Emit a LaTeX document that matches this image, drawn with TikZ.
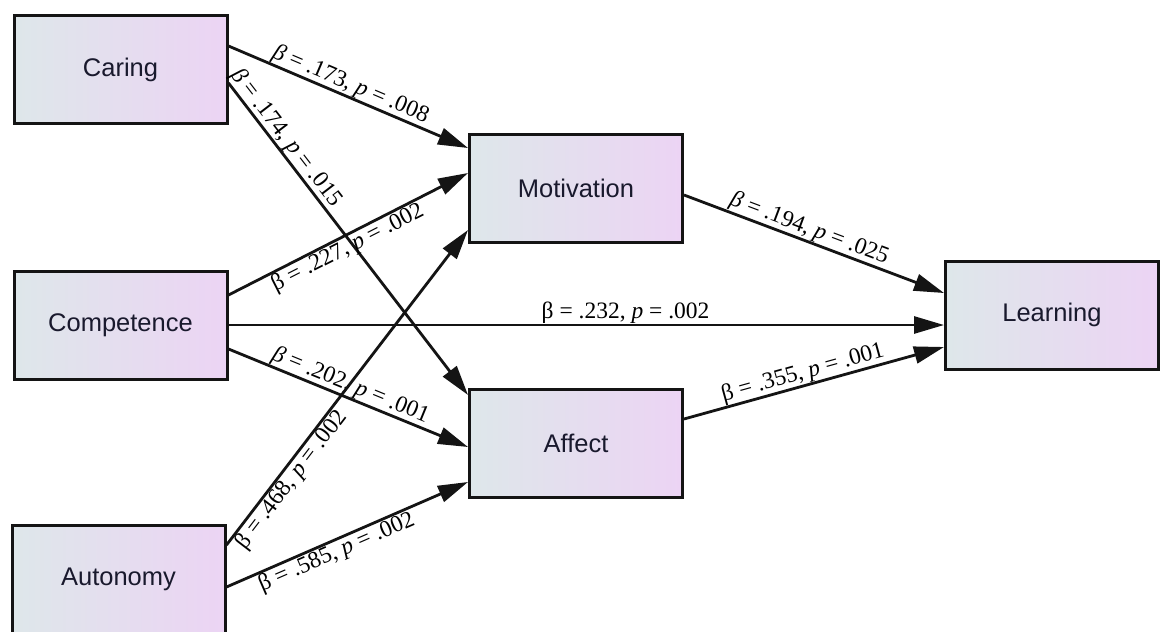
\documentclass[tikz,border=0pt]{standalone}
\usepackage{fontspec}
\setmainfont{Liberation Serif}
\newfontfamily\boxfont{Liberation Sans}
\usetikzlibrary{arrows.meta}
\definecolor{boxleft}{RGB}{222,231,234}
\definecolor{boxright}{RGB}{236,212,244}
\definecolor{boxtext}{RGB}{25,25,45}
\definecolor{edgeblk}{RGB}{20,20,20}
\begin{document}
\begin{tikzpicture}[x=1pt,y=-1pt,
  var/.style={draw=edgeblk, line width=3pt, left color=boxleft, right color=boxright,
    minimum width=213pt, minimum height=108pt, inner sep=0pt,
    font=\boxfont\fontsize{25.5}{30}\selectfont, text=boxtext},
  link/.style={line width=2.8pt, draw=edgeblk, -{Triangle[length=30pt 0, width=17pt 0]}},
  lab/.style={font=\fontsize{23.5}{27}\selectfont, sloped, inner sep=1.5pt, outer sep=0pt}
]
\useasboundingbox (0,0) rectangle (1160,632);
\fill[white] (0,0) rectangle (1160,632);
\node[var] (car) at (120.5,69.5) {Caring};
\node[var] (com) at (120.5,325) {Competence};
\node[var] (aut) at (118.5,579) {Autonomy};
\node[var] (mot) at (576,188.5) {Motivation};
\node[var] (aff) at (576,443.5) {Affect};
\node[var] (lea) at (1052,315) {Learning};

\draw[link] ([yshift=23.5pt]car.east) -- node[lab,above,pos=0.49] {\textit{β} = .173, \textit{p} = .008} ([yshift=40.5pt]mot.west);
\draw[link] ([yshift=-13.5pt]car.east) -- node[lab,above,pos=0.2] {\textit{β} = .174, \textit{p} = .015} ([yshift=48.5pt]aff.west);
\draw[link] ([yshift=30pt]com.east) -- node[lab,below,pos=0.475] {β = .227, \textit{p} = .002} ([yshift=15.5pt]mot.west);
\draw[link] (com.east) -- node[lab,above,pos=0.555] {β = .232, \textit{p} = .002} ([yshift=-10pt]lea.west);
\draw[link] ([yshift=-24pt]com.east) -- node[lab,above,pos=0.49] {\textit{β} = .202, \textit{p} = .001} ([yshift=-3.5pt]aff.west);
\draw[link] ([yshift=34pt]aut.east) -- node[lab,below,pos=0.23] {β = .468, \textit{p} = .002} ([yshift=-41.5pt]mot.west);
\draw[link] ([yshift=-8pt]aut.east) -- node[lab,below,pos=0.436] {β = .585, \textit{p} = .002} ([yshift=-38.5pt]aff.west);
\draw[link] ([yshift=-6.5pt]mot.east) -- node[lab,above,pos=0.465] {\textit{β} = .194, \textit{p} = .025} ([yshift=22pt]lea.west);
\draw[link] ([yshift=24.5pt]aff.east) -- node[lab,above,pos=0.47] {β = .355, \textit{p} = .001} ([yshift=-32pt]lea.west);
\end{tikzpicture}
\end{document}
